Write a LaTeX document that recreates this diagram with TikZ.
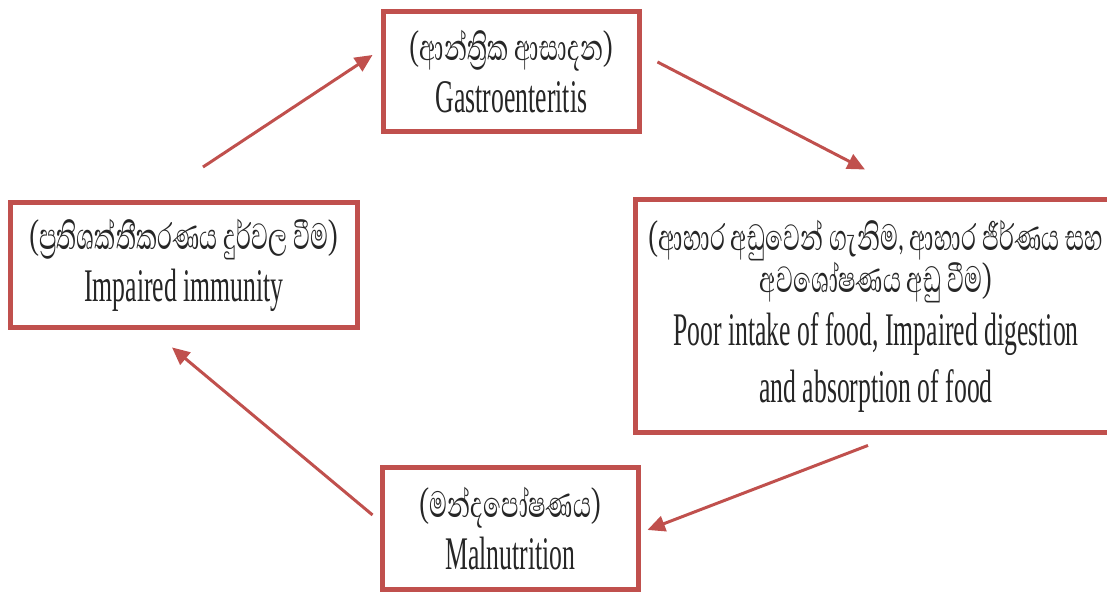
\documentclass[tikz,border=0pt]{standalone}
\usepackage{fontspec}
\setmainfont{Liberation Serif}[FakeStretch=0.55]
\newfontfamily\sinhala[Script=Sinhala,FakeStretch=0.64]{Abhaya Libre}
\usetikzlibrary{arrows.meta}
\definecolor{boxred}{HTML}{C0504D}

\begin{document}
\begin{tikzpicture}[line width=0.85pt,
	stagebox/.style={draw=boxred, line width=1.4pt, fill=white, align=center, inner sep=0pt,
		text=black!85, font=\fontsize{13.3}{15.6}\selectfont},
	cyclearrow/.style={-{Triangle[length=5pt,width=4.5pt]}, draw=boxred, line width=0.85pt}]
			
			\useasboundingbox (0,0) rectangle (11.07,5.93);
			
			\node[stagebox, minimum width=2.56cm, minimum height=1.20cm] (gastro) at (5.115,5.215)
			{{\sinhala (ආන්ත්^^^^200dරික ආසාදන)}\\[-0.8pt] Gastroenteritis};
			
			\node[stagebox, minimum width=4.81cm, minimum height=2.33cm] (intake) at (8.76,2.77)
			{{\sinhala (ආහාර අඩුවෙන් ගැනිම, ආහාර ජීර්ණය සහ}\\[-3.6pt]
			{\sinhala අවශෝෂණය අඩු වීම)}\\[-0.5pt]
			Poor intake of food, Impaired digestion\\[0.5pt]
			and absorption of food};
			
			\node[stagebox, minimum width=2.56cm, minimum height=1.22cm] (malnut) at (5.105,0.645)
			{{\sinhala (මන්දපෝෂණය)}\\[-0.8pt] Malnutrition};
			
			\node[stagebox, minimum width=3.47cm, minimum height=1.25cm] (immune) at (1.84,3.28)
			{{\sinhala (ප්^^^^200dරතිශක්තීකරණය දුර්වල වීම)}\\[-0.8pt] Impaired immunity};
			
			\draw[cyclearrow] ([shift={(0.19,0.33)}]immune.north) -- ([shift={(-0.085,0.165)}]gastro.west);
			\draw[cyclearrow] ([shift={(0.155,0.095)}]gastro.east) -- ([shift={(-0.11,0.275)}]intake.north);
			\draw[cyclearrow] ([shift={(-0.08,-0.105)}]intake.south) -- ([shift={(0.065,-0.015)}]malnut.east);
			\draw[cyclearrow] ([shift={(-0.075,0.135)}]malnut.west) -- ([shift={(-0.12,-0.175)}]immune.south);
			
		\end{tikzpicture}
\end{document}
